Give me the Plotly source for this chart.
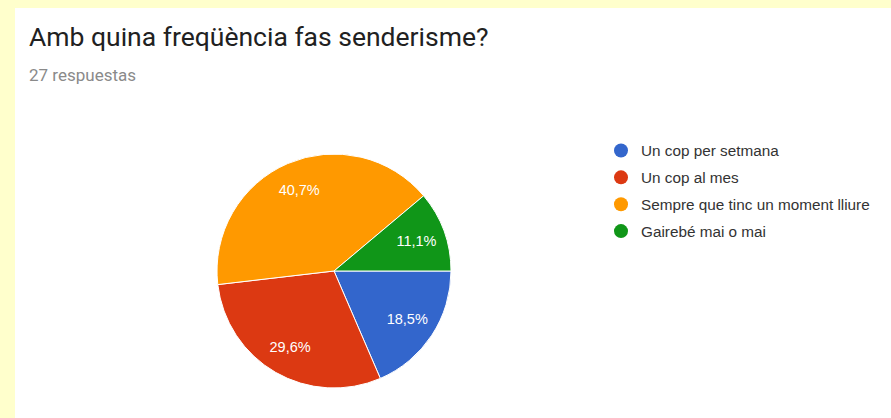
import plotly.graph_objects as go

categories = ["Un cop per setmana", "Un cop al mes", "Sempre que tinc un moment lliure", "Gairebé mai o mai"]
counts = [5, 8, 11, 3]
colors = ["#3366CC", "#DC3912", "#FF9900", "#109618"]
title_text = "Amb quina freqüència fas senderisme?"
subtitle_text = "27 respuestas"

W, H = 891, 418
total = sum(counts)
labels_pct = [f"{c / total * 100:.1f}%".replace(".", ",") for c in counts]

fig = go.Figure()

cx, cy, r = 334, 271, 117
dom = dict(x=[(cx - r) / W, (cx + r) / W], y=[1 - (cy + r) / H, 1 - (cy - r) / H])

# filled pie slices
fig.add_trace(go.Pie(
    labels=categories,
    values=counts,
    textinfo="none",
    marker=dict(colors=colors, line=dict(color="white", width=1)),
    sort=False,
    direction="clockwise",
    rotation=90,
    showlegend=False,
    hoverinfo="label+percent",
    domain=dom,
))

# transparent ring overlay that carries the percentage labels further out
fig.add_trace(go.Pie(
    labels=categories,
    values=counts,
    text=labels_pct,
    textinfo="text",
    textposition="inside",
    insidetextorientation="horizontal",
    textfont=dict(color="white", size=14.5, family="Liberation Sans, Arial, sans-serif"),
    marker=dict(colors=["rgba(0,0,0,0)"] * len(counts), line=dict(width=0)),
    hole=0.5,
    sort=False,
    direction="clockwise",
    rotation=90,
    showlegend=False,
    hoverinfo="skip",
    domain=dom,
))

for cat, col in zip(categories, colors):
    fig.add_trace(go.Scatter(
        x=[None], y=[None], mode="markers", name=cat,
        legendgroup=cat,
        marker=dict(color=col, size=14, symbol="circle"),
        showlegend=True,
    ))

fig.update_layout(
    width=W, height=H,
    margin=dict(l=0, r=0, t=0, b=0),
    paper_bgcolor="#FFFFCC",
    plot_bgcolor="rgba(0,0,0,0)",
    xaxis=dict(visible=False),
    yaxis=dict(visible=False),
    showlegend=True,
    legend=dict(
        x=601 / W, y=1 - 134 / H, xanchor="left", yanchor="top",
        font=dict(size=15.3, color="#333333", family="Liberation Sans, Arial, sans-serif"),
        bgcolor="rgba(0,0,0,0)",
        tracegroupgap=4,
        itemwidth=30,
    ),
    shapes=[dict(
        type="rect", xref="paper", yref="paper",
        x0=15 / W, x1=1.01, y0=-0.01, y1=1 - 8 / H,
        fillcolor="white", line=dict(width=0), layer="below",
    )],
    annotations=[
        dict(text=title_text, xref="paper", yref="paper", x=27 / W, y=1 - 36 / H,
             xanchor="left", yanchor="middle", showarrow=False,
             font=dict(size=26.5, color="#212121", family="Roboto, Arial, sans-serif")),
        dict(text=subtitle_text, xref="paper", yref="paper", x=27 / W, y=1 - 75 / H,
             xanchor="left", yanchor="middle", showarrow=False,
             font=dict(size=17, color="#8a8a8a", family="Roboto, Arial, sans-serif")),
    ],
)

fig.write_html("out.html")
